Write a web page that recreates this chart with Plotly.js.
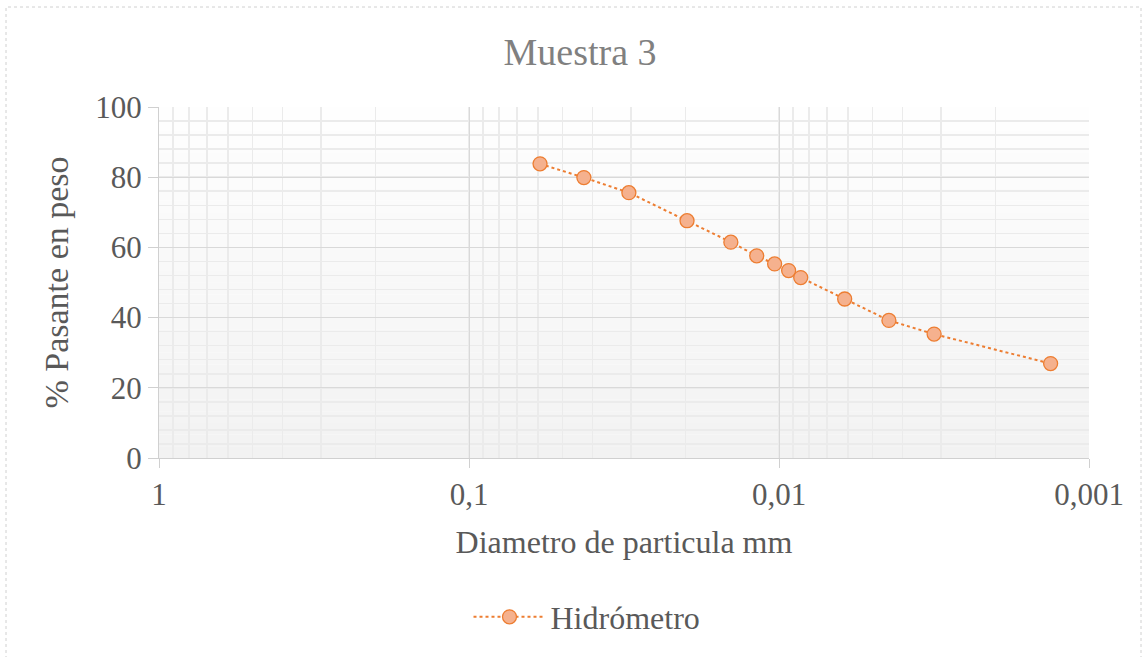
<!DOCTYPE html>
<html>
<head>
<meta charset="utf-8">
<script src="https://cdn.plot.ly/plotly-3.0.1.min.js"></script>
<style>html,body{margin:0;padding:0;background:#fff;}#chart{width:1148px;height:657px;}</style>
</head>
<body>
<div id="chart"></div>
<script>
const diametro = [0.0590, 0.0426, 0.0305, 0.0198, 0.0143, 0.0118, 0.01033, 0.00931, 0.00851, 0.00614, 0.00442, 0.00316, 0.00133];
const pasante = [83.8, 79.9, 75.6, 67.6, 61.5, 57.6, 55.3, 53.4, 51.4, 45.3, 39.2, 35.3, 26.9];
const xTickVals = [1, 0.1, 0.01, 0.001];
const xTickText = ["1", "0,1", "0,01", "0,001"];
const yTickVals = [0, 20, 40, 60, 80, 100];

const W = 1148, H = 657;
const L = 159, R = 1089, T = 107, B = 458;
const pw = R - L, ph = B - T;
const FONT = '"Liberation Serif", "Times New Roman", serif';

const shapes = [];
const bands = 30;
for (let i = 0; i < bands; i++) {
  const t = i / bands;
  const v = Math.round(254 - (254 - 242) * t);
  shapes.push({type: 'rect', xref: 'x domain', yref: 'y domain',
    x0: 0, x1: 1, y0: 1 - (i + 1) / bands, y1: 1 - i / bands,
    fillcolor: `rgb(${v},${v},${v})`, line: {width: 0}, layer: 'below'});
}
shapes.push({type: 'rect', xref: 'paper', yref: 'paper',
  x0: (6 - L) / pw, x1: (1141 - L) / pw, y0: (B - 700) / ph, y1: (B - 7) / ph,
  line: {color: '#d0d0d0', width: 1, dash: 'dot'}, fillcolor: 'rgba(0,0,0,0)', layer: 'below'});

const trace = {
  x: diametro, y: pasante, type: 'scatter', mode: 'lines+markers', name: 'Hidrómetro',
  line: {color: '#ed7d31', width: 2, dash: 'dot'},
  marker: {symbol: 'circle', size: 14, color: '#f5b18e', line: {color: '#ed7d31', width: 1.3}}
};

const layout = {
  width: W, height: H,
  margin: {l: L, r: W - R, t: T, b: H - B, pad: 0},
  paper_bgcolor: '#ffffff', plot_bgcolor: 'rgba(0,0,0,0)',
  font: {family: FONT, color: '#595959', size: 32},
  title: {text: 'Muestra 3', x: 580 / W, xanchor: 'center', y: 1 - 52 / H, yanchor: 'middle',
    font: {size: 38, color: '#808080', family: FONT}},
  xaxis: {
    type: 'log', range: [0, -3], tickvals: xTickVals, ticktext: xTickText,
    showgrid: true, gridcolor: '#d9d9d9', gridwidth: 1,
    ticks: 'outside', ticklen: 9, tickcolor: '#d0d0d0', tickwidth: 1,
    showline: true, linecolor: '#d0d0d0', linewidth: 1, mirror: false,
    zeroline: false,
    minor: {dtick: 'D1', showgrid: true, gridcolor: '#ebebeb', gridwidth: 1.5, ticks: ''},
    tickfont: {size: 31, color: '#595959', family: FONT},
    title: {text: 'Diametro de particula mm', font: {size: 32, color: '#595959', family: FONT}, standoff: 19}
  },
  yaxis: {
    range: [0, 100], tickvals: yTickVals,
    showgrid: true, gridcolor: '#d9d9d9', gridwidth: 1,
    ticks: 'outside', ticklen: 10, tickcolor: '#d0d0d0', tickwidth: 1,
    showline: true, linecolor: '#d0d0d0', linewidth: 1,
    zeroline: false,
    minor: {dtick: 4, showgrid: true, gridcolor: '#ebebeb', gridwidth: 1.5, ticks: ''},
    tickfont: {size: 31, color: '#595959', family: FONT},
    title: {text: '% Pasante en peso', font: {size: 34, color: '#595959', family: FONT}, standoff: 16}
  },
  showlegend: true,
  legend: {orientation: 'h', x: 0.5 - 37 / pw, xanchor: 'center', y: (B - 617) / ph, yanchor: 'middle',
    itemwidth: 72, font: {size: 32, color: '#595959', family: FONT}, bgcolor: 'rgba(0,0,0,0)'},
  shapes: shapes
};

Plotly.newPlot('chart', [trace], layout, {displayModeBar: false, staticPlot: true});
</script>
</body>
</html>
